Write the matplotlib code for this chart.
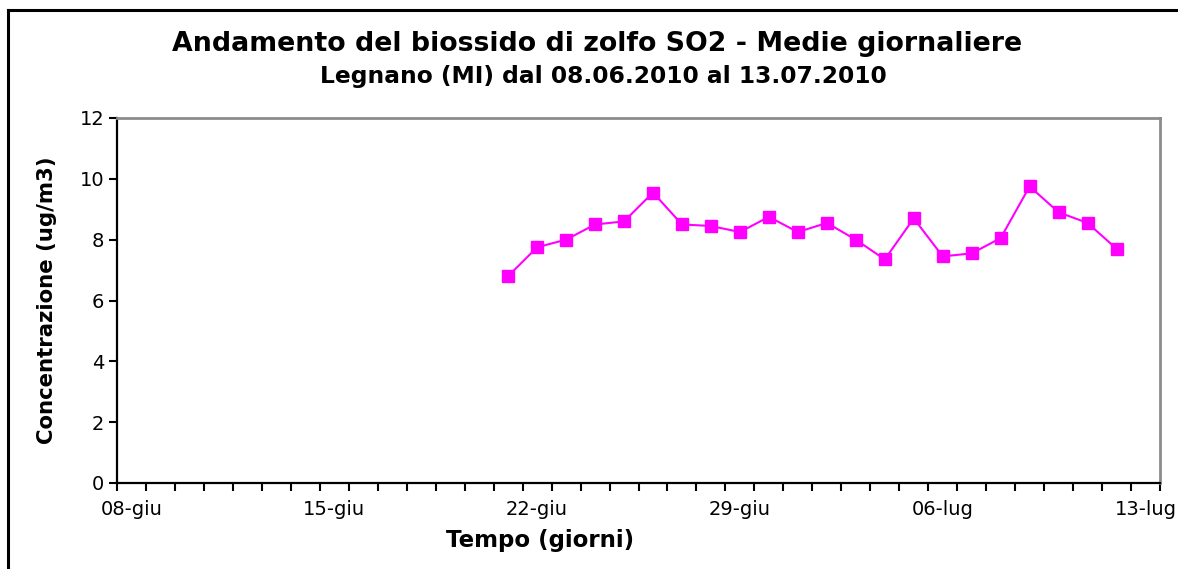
import matplotlib
matplotlib.use("Agg")
import matplotlib.pyplot as plt
import pandas as pd
from matplotlib.lines import Line2D

# Daily mean SO2 concentrations (ug/m3), Legnano (MI)
axis_start = "2010-06-08"
axis_end = "2010-07-13"
first_day = "2010-06-21"
so2_values = [6.8, 7.75, 8.0, 8.5, 8.6, 9.55, 8.5, 8.45, 8.25, 8.75, 8.25,
              8.55, 8.0, 7.35, 8.7, 7.45, 7.55, 8.05, 9.75, 8.9, 8.55, 7.7]
tick_labels = ["08-giu", "15-giu", "22-giu", "29-giu", "06-lug", "13-lug"]
y_ticks = [0, 2, 4, 6, 8, 10, 12]

title = "Andamento del biossido di zolfo SO2 - Medie giornaliere"
subtitle = "Legnano (MI) dal 08.06.2010 al 13.07.2010"
x_title = "Tempo (giorni)"
y_title = "Concentrazione (ug/m3)"

start = pd.Timestamp(axis_start)
n_days = (pd.Timestamp(axis_end) - start).days + 1
dates = pd.date_range(first_day, periods=len(so2_values), freq="D")
# each day occupies one slot on the axis; points sit in the middle of the slot
x = [(d - start).days + 0.5 for d in dates]

W, H = 1178, 569
fig = plt.figure(figsize=(W / 100, H / 100), dpi=100)
fig.patch.set_facecolor("white")

# chart frame
fig.add_artist(Line2D([8 / W, 8 / W], [0, 1 - 10 / H], color="black", lw=2.2,
                      transform=fig.transFigure))
fig.add_artist(Line2D([8 / W, 1], [1 - 10 / H, 1 - 10 / H], color="black", lw=2.2,
                      transform=fig.transFigure))

ax = fig.add_axes([117 / W, 1 - 483 / H, (1160 - 117) / W, (483 - 118) / H])
ax.plot(x, so2_values, color="#FF00FF", lw=1.5, marker="s", markersize=8,
        markerfacecolor="#FF00FF", markeredgecolor="#FF00FF", zorder=3)

ax.set_xlim(0, n_days)
ax.set_ylim(0, 12)
ax.set_yticks(y_ticks)
ax.set_yticklabels([str(v) for v in y_ticks])

ax.set_xticks(range(n_days + 1))
ax.set_xticklabels([])
label_pos = [k * 7 + 0.5 for k in range(len(tick_labels))]
ax.set_xticks(label_pos, minor=True)
ax.set_xticklabels(tick_labels, minor=True)
ax.tick_params(axis="x", which="minor", length=0, pad=12, labelsize=14)
ax.tick_params(axis="x", which="major", length=6, width=1.5, direction="out")
ax.tick_params(axis="y", length=6, width=1.5, direction="out", labelsize=14, pad=3)

for side in ("left", "bottom"):
    ax.spines[side].set_color("black")
    ax.spines[side].set_linewidth(1.6)
for side in ("top", "right"):
    ax.spines[side].set_color("#8c8c8c")
    ax.spines[side].set_linewidth(2.0)

fig.text(597 / W, 1 - 44 / H, title, ha="center", va="center",
         fontsize=19.3, fontweight="bold")
fig.text(603 / W, 1 - 77 / H, subtitle, ha="center", va="center",
         fontsize=16.8, fontweight="bold")
fig.text(540 / W, 1 - 540 / H, x_title, ha="center", va="center",
         fontsize=16.5, fontweight="bold")
fig.text(47 / W, 1 - 300 / H, y_title, ha="center", va="center",
         rotation=90, fontsize=15.3, fontweight="bold")

fig.savefig("out.png", dpi=100, facecolor="white")
